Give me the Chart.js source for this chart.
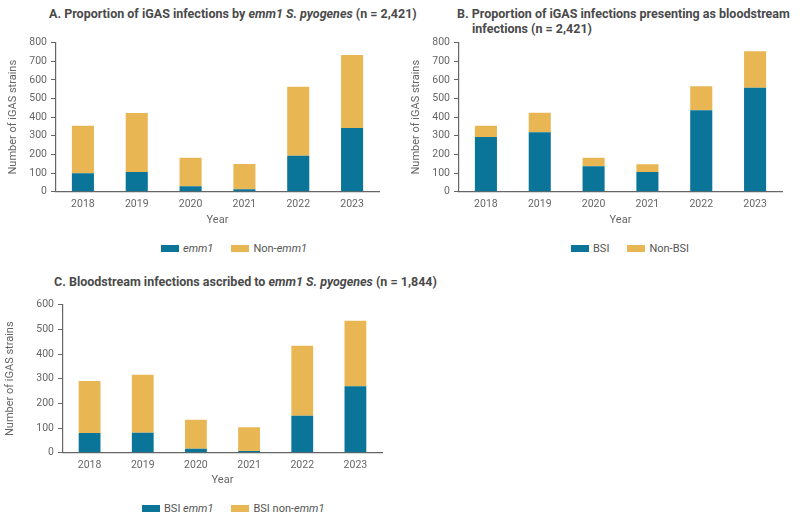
<!DOCTYPE html>
<html>
<head>
<meta charset="utf-8">
<script src="https://cdn.jsdelivr.net/npm/chart.js@4/dist/chart.umd.min.js"></script>
<style>
  body { margin: 0; background: #fff; font-family: Roboto, "Open Sans", sans-serif; color: #555; }
  #wrap { position: relative; width: 800px; height: 529px; overflow: hidden; }
  canvas { position: absolute; }
  .title { position: absolute; font-weight: bold; font-size: 12.5px; color: #4a4a4a; line-height: 15px; white-space: nowrap; }
  .legend { position: absolute; display: flex; gap: 18px; font-size: 11px; color: #555; }
  .legend span.item { display: flex; align-items: center; }
  .legend span.sw { display: inline-block; width: 18px; height: 7px; margin-right: 4px; }
</style>
</head>
<body>
<div id="wrap">
  <div class="title" style="left:49px; top:6px">A. Proportion of iGAS infections by <i>emm1 S. pyogenes</i> (n = 2,421)</div>
  <div class="title" style="left:457px; top:6px">B. Proportion of iGAS infections presenting as bloodstream<br><span style="padding-left:15px">infections (n = 2,421)</span></div>
  <div class="title" style="left:54px; top:274px">C. Bloodstream infections ascribed to <i>emm1 S. pyogenes</i> (n = 1,844)</div>

  <canvas id="chartA" width="390" height="200" style="left:0; top:30px"></canvas>
  <canvas id="chartB" width="395" height="200" style="left:400px; top:30px"></canvas>
  <canvas id="chartC" width="395" height="200" style="left:0; top:290px"></canvas>

  <div class="legend" id="legendA" style="left:161px; top:242px"></div>
  <div class="legend" id="legendB" style="left:571px; top:242px"></div>
  <div class="legend" id="legendC" style="left:142px; top:502px"></div>
</div>
<script>
const years = ['2018', '2019', '2020', '2021', '2022', '2023']

// A. emm1 vs non-emm1
const emm1A = [99, 106, 29, 13, 193, 342]
const nonEmm1A = [255, 316, 153, 136, 370, 392]

// B. BSI vs non-BSI
const bsiB = [294, 319, 136, 106, 437, 558]
const nonBsiB = [60, 105, 46, 41, 129, 196]

// C. BSI emm1 vs BSI non-emm1
const bsiEmm1C = [80, 81, 16, 7, 150, 269]
const bsiNonEmm1C = [211, 235, 118, 96, 284, 266]

const ticksA = [0, 100, 200, 300, 400, 500, 600, 700, 800]
const ticksC = [0, 100, 200, 300, 400, 500, 600]

const blue = '#0b7499'
const gold = '#e9b654'
const axisGrey = '#666'
const font = 'Roboto, "Open Sans", sans-serif'

function makeChart(id, datasets, yMax, box) {
  const canvas = document.getElementById(id)
  return new Chart(canvas.getContext('2d'), {
    type: 'bar',
    data: {
      labels: years,
      datasets: datasets.map(d => ({
        label: d.label,
        data: d.data,
        backgroundColor: d.color,
        categoryPercentage: 1,
        barPercentage: 0.41
      }))
    },
    options: {
      responsive: false,
      animation: false,
      layout: { padding: { top: box.top, right: canvas.width - box.right, left: 0, bottom: 0 } },
      plugins: { legend: { display: false }, tooltip: { enabled: false } },
      scales: {
        x: {
          stacked: true,
          grid: { display: false, drawTicks: false },
          border: { display: true, color: axisGrey, width: 1.2 },
          ticks: { color: '#666', font: { family: font, size: 10.5 }, padding: 6 },
          title: { display: true, text: 'Year', color: '#666', font: { family: font, size: 11 }, padding: { top: 2, bottom: 3 } },
          afterFit: s => { s.height = canvas.height - box.bottom }
        },
        y: {
          stacked: true,
          min: 0,
          max: yMax,
          grid: { drawOnChartArea: false, drawTicks: true, tickLength: 5, color: axisGrey },
          border: { display: true, color: axisGrey, width: 1.2 },
          ticks: { stepSize: 100, color: '#666', font: { family: font, size: 10.5 }, padding: 4 },
          title: { display: true, text: 'Number of iGAS strains', color: '#666', font: { family: font, size: 11 }, padding: { top: box.titlePad, bottom: 0 } },
          afterFit: s => { s.width = box.left }
        }
      }
    }
  })
}

function makeLegend(id, items) {
  const el = document.getElementById(id)
  items.forEach(it => {
    const span = document.createElement('span')
    span.className = 'item'
    span.innerHTML = '<span class="sw" style="background:' + it.color + '"></span><span>' + it.html + '</span>'
    el.appendChild(span)
  })
}

makeChart('chartA', [
  { label: 'emm1', data: emm1A, color: blue },
  { label: 'Non-emm1', data: nonEmm1A, color: gold }
], ticksA[ticksA.length - 1], { left: 56, right: 379, top: 12.7, bottom: 161.7, titlePad: 7 })

makeChart('chartB', [
  { label: 'BSI', data: bsiB, color: blue },
  { label: 'Non-BSI', data: nonBsiB, color: gold }
], ticksA[ticksA.length - 1], { left: 59, right: 382, top: 12.7, bottom: 161.7, titlePad: 10 })

makeChart('chartC', [
  { label: 'BSI emm1', data: bsiEmm1C, color: blue },
  { label: 'BSI non-emm1', data: bsiNonEmm1C, color: gold }
], ticksC[ticksC.length - 1], { left: 63, right: 382, top: 14.7, bottom: 162.7, titlePad: 4 })

makeLegend('legendA', [{ color: blue, html: '<i>emm1</i>' }, { color: gold, html: 'Non-<i>emm1</i>' }])
makeLegend('legendB', [{ color: blue, html: 'BSI' }, { color: gold, html: 'Non-BSI' }])
makeLegend('legendC', [{ color: blue, html: 'BSI <i>emm1</i>' }, { color: gold, html: 'BSI non-<i>emm1</i>' }])
</script>
</body>
</html>
